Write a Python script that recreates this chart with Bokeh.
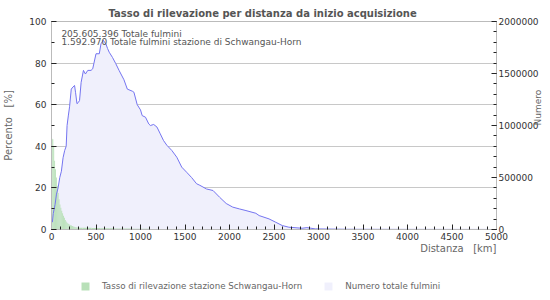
import math
from bokeh.plotting import figure
from bokeh.layouts import column
from bokeh.models import (Range1d, LinearAxis, SingleIntervalTicker, FixedTicker, Label,
                          Legend, LegendItem, BasicTickFormatter, ColumnDataSource, Title)
from bokeh.embed import file_html
from bokeh.resources import INLINE

# ---- data ----
title_text = "Tasso di rilevazione per distanza da inizio acquisizione"
total_label = "205.605.396 Totale fulmini"
station_label = "1.592.970 Totale fulmini stazione di Schwangau-Horn"
series_rate_name = "Tasso di rilevazione stazione Schwangau-Horn"
series_total_name = "Numero totale fulmini"
x_axis_title = "Distanza\u00a0\u00a0\u00a0[km]"
y_axis_title = "Percento\u00a0\u00a0\u00a0[%]"
y2_axis_title = "Numero"

distance_km = [10, 20, 40, 56, 74, 93, 111, 130, 148, 165, 175, 190, 203, 222, 241, 259,
               270, 286, 300, 315, 333, 359, 381, 408, 444, 463, 500, 537, 556, 581, 611,
               630, 648, 685, 722, 759, 814, 852, 908, 926, 963, 1000, 1019, 1056, 1093,
               1111, 1148, 1185, 1222, 1259, 1296, 1352, 1408, 1463, 1519, 1574, 1630,
               1667, 1741, 1815, 1889, 1963, 2037, 2111, 2185, 2296, 2333, 2444, 2519,
               2593, 2667, 2815, 2870, 2963, 3315, 4000, 4900]
total_count = [70000, 154000, 240000, 340000, 400000, 500000, 560000, 690000, 760000,
               800000, 1000000, 1100000, 1180000, 1350000, 1370000, 1385000, 1320000,
               1210000, 1220000, 1240000, 1415000, 1530000, 1495000, 1530000, 1530000,
               1545000, 1690000, 1690000, 1785000, 1820000, 1785000, 1740000, 1705000,
               1655000, 1595000, 1530000, 1440000, 1350000, 1330000, 1320000, 1200000,
               1150000, 1095000, 1080000, 1015000, 1000000, 1010000, 985000, 920000,
               855000, 810000, 760000, 695000, 600000, 550000, 500000, 440000, 425000,
               390000, 375000, 310000, 250000, 215000, 198000, 182000, 156000, 134000,
               102000, 70000, 38000, 22000, 12000, 18000, 6000, 2000, 1000, 600]

rate_bin_edges_km = [0, 10, 20, 30, 40, 50, 60, 70, 80, 90, 100, 110, 120, 130, 140, 150,
                     160, 170, 180, 190, 200, 210, 220, 230, 240, 250, 260, 270, 280, 290,
                     300, 350, 400, 450, 500, 550, 600, 650, 700, 750, 800, 850, 900, 950,
                     1000, 1050, 1100, 1150, 1200]
rate_pct = [43.6, 43.4, 40.0, 33.0, 29.0, 25.0, 21.0, 17.5, 14.5, 12.0, 10.5, 9.0, 7.8,
            6.6, 5.6, 4.6, 3.9, 3.3, 2.9, 2.6, 2.3, 2.1, 1.9, 1.7, 1.5, 1.3, 1.2, 1.1,
            1.0, 1.0, 0.9, 0.8, 0.8, 0.7, 0.7, 0.6, 0.6, 0.6, 0.5, 0.5, 0.5, 0.5, 0.4,
            0.4, 0.4, 0.4, 0.3, 0.3]

FONT = "DejaVu Sans"
GREEN = "#b8e0b8"
LAVENDER = "#f0f0fc"

src_total = ColumnDataSource(dict(x=distance_km, y=total_count,
                                  y0=[0] * len(distance_km)))
src_rate = ColumnDataSource(dict(left=rate_bin_edges_km[:-1], right=rate_bin_edges_km[1:],
                                 bottom=[0] * len(rate_pct), top=rate_pct))

p = figure(width=550, height=262, output_backend="svg", toolbar_location=None,
           x_range=Range1d(0, 5000), y_range=Range1d(0, 100),
           min_border_left=50, min_border_right=50, min_border_top=21,
           min_border_bottom=33)
p.extra_y_ranges = {"cnt": Range1d(0, 2000000)}

p.title.text = title_text
p.title.align = "left"
p.title.offset = 57
p.title.standoff = 6
p.title.text_font = FONT
p.title.text_font_size = "10px"
p.title.text_font_style = "bold"
p.title.text_color = "#555555"

p.outline_line_color = "#bbbbbb"
p.xgrid.grid_line_color = None
p.ygrid.grid_line_color = "#c8c8c8"
p.ygrid.ticker = SingleIntervalTicker(interval=20)

p.varea(x="x", y1="y0", y2="y", source=src_total, fill_color=LAVENDER,
        y_range_name="cnt")
p.quad(left="left", right="right", bottom="bottom", top="top", source=src_rate,
       fill_color=GREEN, line_color=None)
p.line(x="x", y="y", source=src_total, line_color="#7474f0", line_width=1,
       y_range_name="cnt")


def style_axis(ax, size="9px"):
    ax.major_label_text_font = FONT
    ax.major_label_text_font_size = size
    ax.major_label_text_color = "#333333"
    ax.axis_line_color = "#bbbbbb"
    ax.major_tick_line_color = "#222222"
    ax.minor_tick_line_color = "#222222"
    ax.major_tick_in = 5
    ax.major_tick_out = 0
    ax.minor_tick_in = 3
    ax.minor_tick_out = 0
    ax.axis_label_text_font = FONT
    ax.axis_label_text_font_style = "normal"
    ax.axis_label_text_color = "#666666"
    ax.axis_label_text_font_size = "10px"


xa = p.xaxis[0]
xa.ticker = SingleIntervalTicker(interval=500, num_minor_ticks=5)
style_axis(xa)
xa.major_label_standoff = 3

ya = p.yaxis[0]
ya.ticker = SingleIntervalTicker(interval=20, num_minor_ticks=2)
style_axis(ya)
ya.major_label_standoff = 5
ya.axis_label = y_axis_title
ya.axis_label_standoff = 12

ra = LinearAxis(y_range_name="cnt",
                ticker=SingleIntervalTicker(interval=500000, num_minor_ticks=5),
                formatter=BasicTickFormatter(use_scientific=False))
style_axis(ra)
ra.major_label_standoff = 2
p.add_layout(ra, "right")

# label-only axis for the right-hand title, reading bottom to top
ra_title = LinearAxis(y_range_name="cnt", ticker=FixedTicker(ticks=[]),
                      axis_line_color=None,
                      axis_label=y2_axis_title, axis_label_standoff=-4,
                      axis_label_orientation=math.pi / 2,
                      axis_label_text_align="center",
                      axis_label_text_font=FONT, axis_label_text_font_size="9px",
                      axis_label_text_font_style="normal",
                      axis_label_text_color="#666666")
p.add_layout(ra_title, "right")

x_title = Title(text=x_axis_title, align="right", text_font=FONT,
                text_font_size="10px", text_font_style="normal",
                text_color="#666666", offset=0)
try:
    x_title.standoff = -3
except Exception:
    x_title.standoff = 0
p.add_layout(x_title, "below")

p.add_layout(Label(x=111, y=94.0, text=total_label, text_align="left",
                   text_baseline="middle", text_font=FONT, text_font_size="9px",
                   text_color="#555555"))
p.add_layout(Label(x=111, y=90.0, text=station_label, text_align="left",
                   text_baseline="middle", text_font=FONT, text_font_size="9px",
                   text_color="#555555"))

# ---- legend strip below the chart (its view range shows none of the data) ----
lg = figure(width=550, height=38, output_backend="svg", toolbar_location=None,
            x_range=Range1d(6000, 7000), y_range=Range1d(0, 100),
            min_border_left=0, min_border_right=0, min_border_top=0,
            min_border_bottom=0, x_axis_location=None, y_axis_location=None)
lg.extra_y_ranges = {"cnt": Range1d(0, 2000000)}
lg.outline_line_color = None
lg.grid.grid_line_color = None
leg_bar = lg.quad(left="left", right="right", bottom="bottom", top="top",
                  source=src_rate, fill_color=GREEN, line_color=None)
leg_area = lg.varea(x="x", y1="y0", y2="y", source=src_total, fill_color=LAVENDER,
                    y_range_name="cnt")
legend = Legend(items=[LegendItem(label=series_rate_name, renderers=[leg_bar]),
                       LegendItem(label=series_total_name, renderers=[leg_area])],
                orientation="horizontal", location=(29, 9),
                glyph_width=10, glyph_height=10, label_standoff=12, spacing=21,
                padding=0, margin=0, border_line_color=None,
                background_fill_alpha=0, label_text_font=FONT,
                label_text_font_size="8.7px", label_text_color="#666666",
                label_height=10)
lg.add_layout(legend)

layout = column(p, lg, spacing=0)
open("out.html", "w").write(file_html(layout, INLINE))
